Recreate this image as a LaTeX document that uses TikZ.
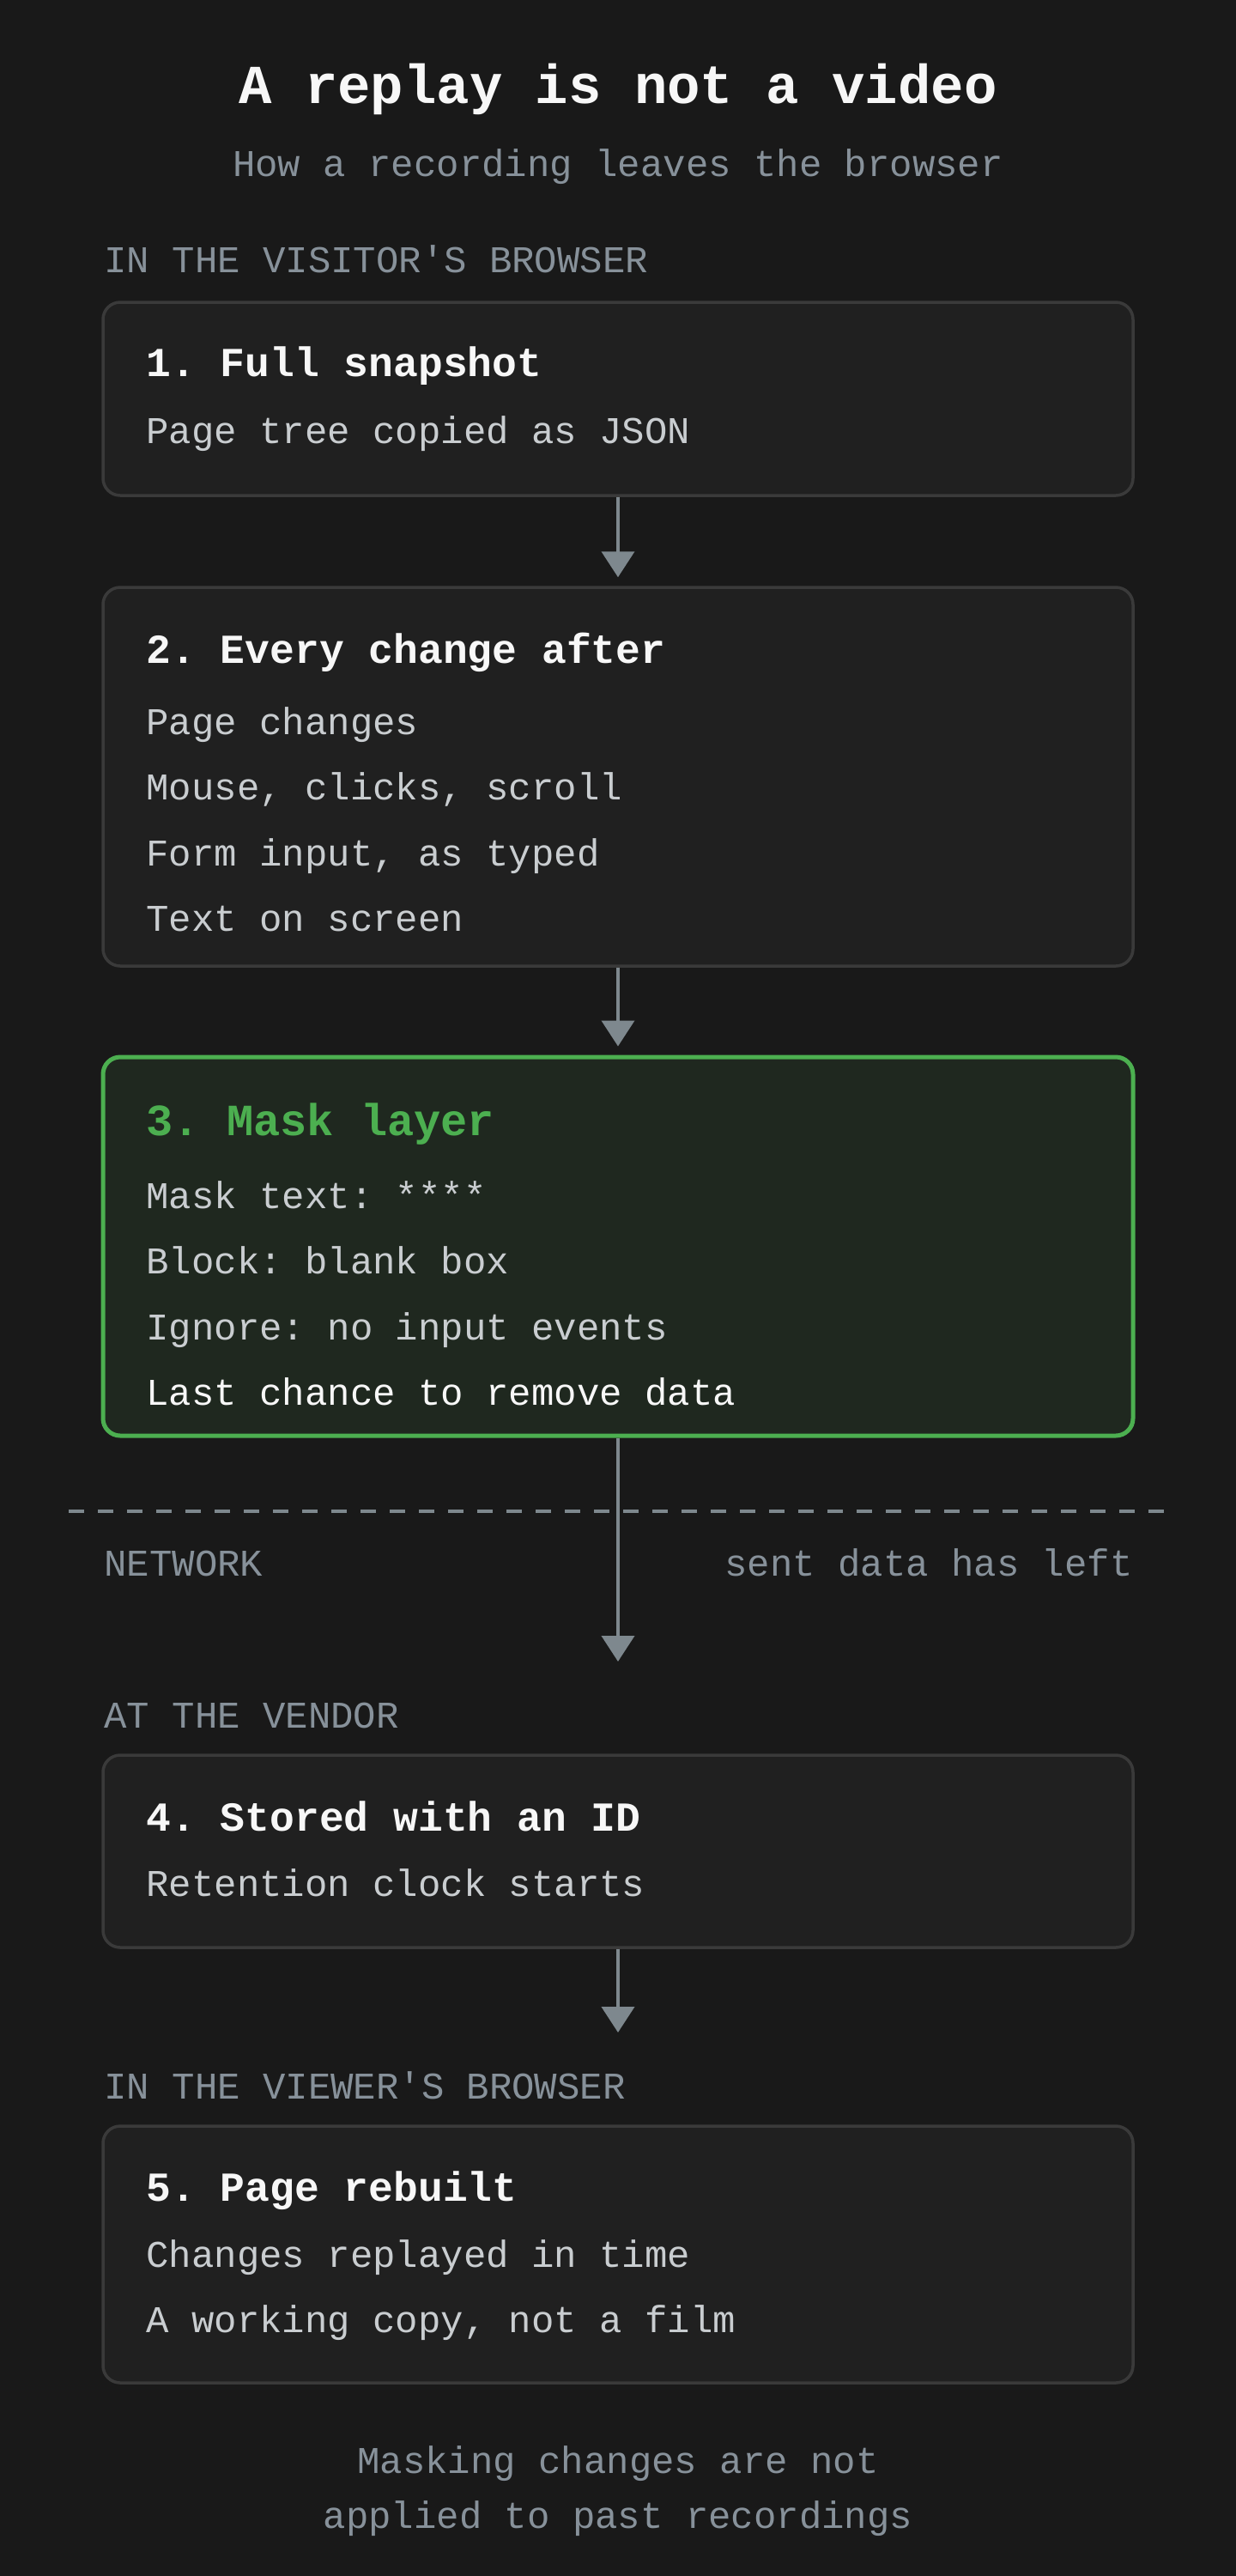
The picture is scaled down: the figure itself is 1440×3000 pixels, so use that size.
\documentclass[tikz,border=0pt]{standalone}
\usepackage{fontspec}
\setmonofont{Liberation Mono}
\usetikzlibrary{arrows.meta, positioning}

\definecolor{bgdark}{HTML}{191919}
\definecolor{boxfill}{HTML}{202020}
\definecolor{boxline}{HTML}{3A3A3A}
\definecolor{bodytext}{HTML}{C9CDD0}
\definecolor{headtext}{HTML}{F7F7F7}
\definecolor{labelgray}{HTML}{87919A}
\definecolor{flowgray}{HTML}{7E888E}
\definecolor{maskgreen}{HTML}{4CAF50}
\definecolor{maskfill}{HTML}{1F281F}

\tikzset{
    stagebox/.style={draw=boxline, fill=boxfill, line width=1.75pt, rounded corners=10pt, minimum width=600pt, inner sep=0pt},
    maskbox/.style={stagebox, draw=maskgreen, fill=maskfill, line width=2.5pt},
    heading/.style={anchor=base west, inner sep=0pt, text=headtext, font=\ttfamily\bfseries\fontsize{24pt}{28pt}\selectfont},
    bodyline/.style={anchor=base west, inner sep=0pt, text=bodytext, font=\ttfamily\fontsize{22pt}{26pt}\selectfont},
    zonelabel/.style={anchor=base west, inner sep=0pt, text=labelgray, font=\ttfamily\fontsize{22pt}{26pt}\selectfont},
    flow/.style={draw=flowgray, line width=2pt, -{Triangle[width=19pt, length=15pt]}}
}

\begin{document}
\begin{tikzpicture}[x=0.5pt, y=-0.5pt]
\useasboundingbox[fill=bgdark] (0,0) rectangle (1440,3000);

\node[anchor=base, inner sep=0pt, text=headtext, font=\ttfamily\bfseries\fontsize{32pt}{38pt}\selectfont] (title) at (720,120) {A replay is not a video};
\node[anchor=base, inner sep=0pt, text=labelgray, font=\ttfamily\fontsize{22pt}{26pt}\selectfont] (subtitle) at (720,205) {How a recording leaves the browser};

% visitor's browser
\node[zonelabel] (visitor) at (121,317) {IN THE VISITOR'S BROWSER};

\node[stagebox, minimum height=112.5pt] (snapshot) at (720,464.5) {};
\node[heading] (snapshothead) at (170,438) {1. Full snapshot};
\node[bodyline] (snapshotbody) at (170,516) {Page tree copied as JSON};

\node[stagebox, minimum height=220.5pt] (changes) at (720,904.5) {};
\node[heading] (changeshead) at (170,772) {2. Every change after};
\node[bodyline] (changesa) at (170,855) {Page changes};
\node[bodyline] (changesb) at (170,931) {Mouse, clicks, scroll};
\node[bodyline] (changesc) at (170,1008) {Form input, as typed};
\node[bodyline] (changesd) at (170,1084) {Text on screen};

\node[maskbox, minimum height=220.5pt] (mask) at (720,1451.5) {};
\node[heading, text=maskgreen, font=\ttfamily\bfseries\fontsize{26pt}{30pt}\selectfont] (maskhead) at (170,1322) {3. Mask layer};
\node[bodyline] (maska) at (170,1407) {Mask text: ****};
\node[bodyline] (maskb) at (170,1483) {Block: blank box};
\node[bodyline] (maskc) at (170,1560) {Ignore: no input events};
\node[bodyline, text=headtext] (maskd) at (170,1636) {Last chance to remove data};

% network line
\draw[flowgray, line width=2pt, dash pattern=on 9pt off 8pt] (80,1760) -- (1362,1760);
\node[zonelabel] (network) at (121,1835) {NETWORK};
\node[zonelabel, anchor=base east] (leftnote) at (1320,1835) {sent data has left};

% vendor
\node[zonelabel] (vendor) at (121,2012) {AT THE VENDOR};

\node[stagebox, minimum height=112pt] (stored) at (720,2156) {};
\node[heading] (storedhead) at (170,2132) {4. Stored with an ID};
\node[bodyline] (storedbody) at (170,2208) {Retention clock starts};

% viewer's browser
\node[zonelabel] (viewer) at (121,2444) {IN THE VIEWER'S BROWSER};

\node[stagebox, minimum height=149.5pt] (rebuilt) at (720,2625.5) {};
\node[heading] (rebuilthead) at (170,2563) {5. Page rebuilt};
\node[bodyline] (rebuilta) at (170,2640) {Changes replayed in time};
\node[bodyline] (rebuiltb) at (170,2716) {A working copy, not a film};

\node[anchor=base, inner sep=0pt, text=labelgray, font=\ttfamily\fontsize{22pt}{26pt}\selectfont] (footera) at (720,2880) {Masking changes are not};
\node[anchor=base, inner sep=0pt, text=labelgray, font=\ttfamily\fontsize{22pt}{26pt}\selectfont] (footerb) at (720,2944) {applied to past recordings};

% arrows
\coordinate (vendorin) at (720,1935);
\coordinate (viewerin) at (720,2367);
\draw[flow, shorten >=5pt] (snapshot.south) -- (changes.north);
\draw[flow, shorten >=5pt] (changes.south) -- (mask.north);
\draw[flow] (mask.south) -- (vendorin);
\draw[flow] (stored.south) -- (viewerin);

\end{tikzpicture}
\end{document}
